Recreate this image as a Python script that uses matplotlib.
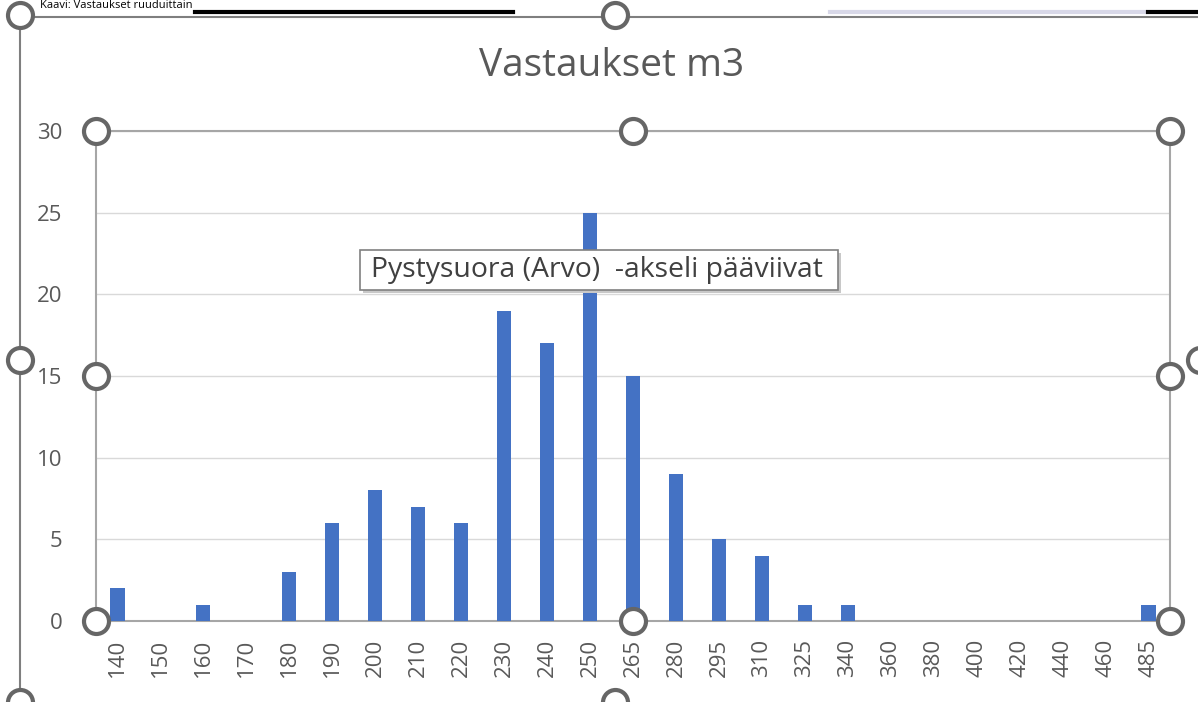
import matplotlib.pyplot as plt
from matplotlib.patches import FancyBboxPatch
from matplotlib.lines import Line2D

# data
categories = ['140', '150', '160', '170', '180', '190', '200', '210', '220', '230',
              '240', '250', '265', '280', '295', '310', '325', '340', '360', '380',
              '400', '420', '440', '460', '485']
counts = [2, 0, 1, 0, 3, 6, 8, 7, 6, 19, 17, 25, 15, 9, 5, 4, 1, 1, 0, 0, 0, 0, 0, 0, 1]
y_ticks = [0, 5, 10, 15, 20, 25, 30]
title = 'Vastaukset m3'
tooltip = 'Pystysuora (Arvo)  -akseli pääviivat'

plt.rcParams['font.family'] = ['Open Sans', 'DejaVu Sans']

W, H = 1198, 702
fig = plt.figure(figsize=(W / 100, H / 100), dpi=100)

def fx(px):
    return px / W

def fy(py):
    return 1 - py / H

ax = fig.add_axes([fx(96), fy(621), fx(1170) - fx(96), fy(131) - fy(621)])

x = list(range(len(categories)))
ax.bar(x, counts, width=0.33, color='#4472C4', zorder=3)
ax.set_xlim(-0.5, len(categories) - 0.5)
ax.set_ylim(0, 30)
ax.set_yticks(y_ticks)
ax.set_xticks(x)
ax.set_xticklabels(categories, rotation=90)
ax.tick_params(axis='both', length=0, colors='#595959', labelsize=16)
ax.tick_params(axis='y', pad=24)
ax.tick_params(axis='x', pad=13)
ax.grid(axis='y', color='#D9D9D9', lw=1, zorder=0)
for s in ax.spines.values():
    s.set_color('#A6A6A6')
    s.set_linewidth(1.5)

# selection handles of the plot area
hx = [0, 0.5, 1, 0, 1, 0, 0.5, 1]
hy = [1, 1, 1, 0.5, 0.5, 0, 0, 0]
ax.plot(hx, hy, 'o', ms=18, mfc='white', mec='#666666', mew=3,
        transform=ax.transAxes, clip_on=False, zorder=10)

fig.text(fx(612), fy(66), title, ha='center', va='center', fontsize=28, color='#595959')

# chart area frame and handles
fig.add_artist(Line2D([fx(20), fx(20)], [fy(17), 0], color='#7F7F7F', lw=1.5))
fig.add_artist(Line2D([fx(20), 1], [fy(17), fy(17)], color='#7F7F7F', lw=1.5))
fig.add_artist(Line2D([fx(195), fx(513)], [fy(12), fy(12)], color='black', lw=3))
fig.add_artist(Line2D([fx(830), fx(1145)], [fy(12), fy(12)], color='#D8D8E8', lw=3))
fig.add_artist(Line2D([fx(1148), 1], [fy(12), fy(12)], color='black', lw=3))
for px, py in [(20, 15), (615, 15), (20, 360), (20, 702), (615, 702), (1200, 360)]:
    fig.add_artist(Line2D([fx(px)], [fy(py)], marker='o', ms=18, mfc='white',
                          mec='#666666', mew=3))

fig.text(fx(40), 1, 'Kaavi: Vastaukset ruuduittain', ha='left', va='top',
         fontsize=8, color='black')

# tooltip box
shadow = FancyBboxPatch((fx(363), fy(293)), fx(838) - fx(360), fy(250) - fy(290),
                        boxstyle='square,pad=0', transform=fig.transFigure,
                        fc='#C8C8C8', ec='none', zorder=20)
box = FancyBboxPatch((fx(360), fy(290)), fx(838) - fx(360), fy(250) - fy(290),
                     boxstyle='square,pad=0', transform=fig.transFigure,
                     fc='white', ec='#808080', lw=1.2, zorder=21)
fig.add_artist(shadow)
fig.add_artist(box)
fig.text(fx(371), fy(270), tooltip, ha='left', va='center', fontsize=20.4,
         color='#404040', zorder=22)

fig.savefig('out.png', dpi=100)
